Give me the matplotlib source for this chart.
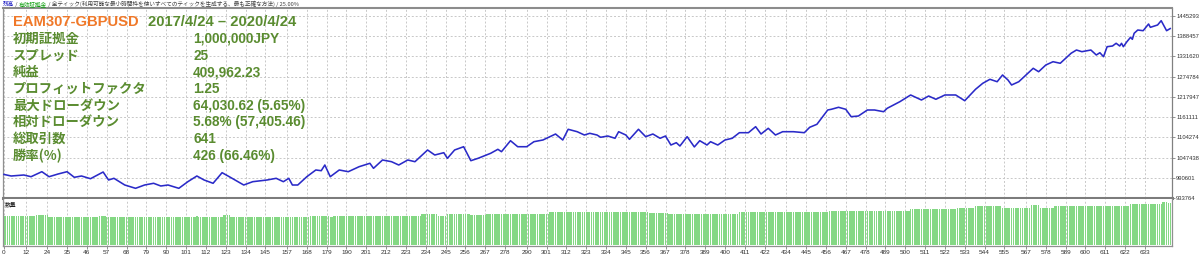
import matplotlib
matplotlib.use('Agg')
import matplotlib.pyplot as plt
import numpy as np

# ---------------- data ----------------
trade_idx = [0, 4, 11, 15, 21, 25, 30, 35, 39, 43, 48, 55, 58, 61, 67, 73, 78, 83, 87, 91,
             97, 102, 107, 111, 116, 121, 125, 133, 138, 146, 151, 155, 158, 160, 163, 168,
             173, 176, 178, 181, 186, 191, 197, 203, 205, 210, 215, 219, 224, 228, 235, 239,
             244, 246, 250, 255, 259, 263, 270, 274, 276, 281, 285, 290, 294, 299, 306, 310,
             313, 318, 322, 325, 329, 331, 335, 339, 341, 345, 347, 352, 356, 360, 364, 367,
             370, 373, 375, 379, 383, 386, 390, 392, 396, 400, 404, 408, 413, 417, 420, 424,
             428, 432, 438, 444, 447, 451, 457, 459, 463, 467, 470, 474, 479, 483, 488, 490,
             497, 503, 509, 513, 517, 522, 528, 533, 539, 543, 547, 551, 554, 557, 559, 563,
             566, 571, 574, 578, 582, 586, 589, 592, 595, 598, 603, 606, 608, 610, 612, 615,
             617, 619, 620, 621, 623, 625, 626, 627, 629, 632, 635, 636, 640, 642, 645, 647]
balance = [1000000, 995600, 998400, 993600, 1007700, 993600, 1001200, 1007700, 991900, 995600,
           988000, 1006800, 984400, 989100, 970300, 961000, 970300, 975100, 967500, 970300,
           961000, 979600, 995600, 984400, 975100, 1004900, 993600, 970300, 979600, 984400,
           989100, 979600, 989100, 970300, 970300, 993600, 1012500, 1010500, 1026500, 993600,
           1012500, 1007700, 1021700, 1031300, 1017200, 1040600, 1035800, 1026500, 1040600, 1035800,
           1068700, 1054600, 1061100, 1045300, 1068700, 1077900, 1038600, 1045300, 1059400, 1070600,
           1063900, 1094800, 1077900, 1077900, 1092000, 1096800, 1113600, 1096800, 1126900, 1120100,
           1110800, 1115600, 1110800, 1104400, 1108000, 1101600, 1120100, 1110800, 1098700, 1126900,
           1106100, 1113600, 1101600, 1108000, 1082700, 1089200, 1079900, 1106100, 1077300, 1094800,
           1082700, 1092000, 1082700, 1096800, 1101600, 1117300, 1117300, 1134200, 1113600, 1129700,
           1110800, 1120100, 1120100, 1117300, 1132500, 1140900, 1181100, 1183100, 1188700, 1183100,
           1162300, 1164200, 1181100, 1181100, 1176300, 1185900, 1204400, 1223300, 1209200, 1220400,
           1211200, 1223300, 1223300, 1207200, 1239300, 1256100, 1267400, 1260600, 1279500, 1265400,
           1251400, 1260600, 1274700, 1298300, 1288700, 1307600, 1316800, 1312400, 1326400, 1340500,
           1349700, 1345000, 1349700, 1335700, 1342100, 1330900, 1359000, 1361000, 1368600, 1361000,
           1368600, 1359000, 1373100, 1385400, 1379800, 1396700, 1405900, 1404000, 1422800, 1413500,
           1420000, 1432100, 1404000, 1409962]

# lot size steps: first trade index of each step and its lot size
lot_start = [0, 18, 25, 53, 57, 107, 108, 122, 126, 170, 181, 183, 232, 241, 246, 259, 268,
             303, 358, 369, 408, 458, 503, 529, 539, 554, 570, 575, 583, 625, 643, 646]
lot_value = [0.29, 0.30, 0.28, 0.29, 0.28, 0.29, 0.28, 0.30, 0.28, 0.29, 0.28, 0.29, 0.31,
             0.29, 0.31, 0.30, 0.31, 0.33, 0.32, 0.31, 0.33, 0.34, 0.36, 0.37, 0.39, 0.37,
             0.40, 0.37, 0.39, 0.41, 0.43, 0.42]
n_bars = 648

x_ticks = [0, 12, 24, 35, 46, 57, 68, 79, 90, 101, 112, 123, 134, 145, 157, 168, 179, 190,
           201, 212, 223, 234, 245, 256, 267, 278, 290, 301, 312, 323, 334, 345, 356, 367,
           378, 389, 400, 411, 422, 434, 445, 456, 467, 478, 489, 500, 511, 522, 533, 544,
           555, 567, 578, 589, 600, 611, 622, 633]
y_ticks = [933764, 990601, 1047438, 1104274, 1161111, 1217947, 1274784, 1331620, 1388457, 1445293]

title_left = "EAM307-GBPUSD"
title_right = "2017/4/24 \u2013 2020/4/24"
stat_labels = ["初期証拠金", "スプレッド", "純益", "プロフィットファクタ", "最大ドローダウン",
               "相対ドローダウン", "総取引数", "勝率(%)"]
stat_values = ["1,000,000JPY", "25", "409,962.23", "1.25", "64,030.62 (5.65%)",
               "5.68% (57,405.46)", "641", "426 (66.46%)"]
header_parts = [("残高", "#1010c0"), (" / ", "#404040"), ("有効証拠金", "#10a010"),
                (" / 全ティック(利用可能な最小時間枠を使いすべてのティックを生成する、最も正確な方法) / 25.00%", "#404040")]

# ---------------- figure ----------------
W, H = 1200, 257
fig = plt.figure(figsize=(W / 100, H / 100), dpi=100)
fig.patch.set_facecolor('white')

def fx(px):
    return px / W

def fy(py):
    return 1 - py / H

L, R = 3, 1172
ax = fig.add_axes([fx(L), fy(198), (R - L) / W, (198 - 8) / H])
axv = fig.add_axes([fx(L), fy(246), (R - L) / W, (246 - 199) / H])

xlim = (-0.55, 648.0)
grid_kw = dict(color='#c8c8c8', linestyle=(0, (2, 2)), linewidth=0.7)

# main balance line
ax.plot(trade_idx, balance, color='#2a2ac8', linewidth=1.15, zorder=3)
ax.set_xlim(*xlim)
ax.set_ylim(933764, 1467778)
ax.set_xticks(x_ticks)
ax.set_yticks(y_ticks)
ax.set_xticklabels([])
ax.tick_params(axis='x', length=0)
ax.yaxis.tick_right()
ax.set_yticklabels([str(v) for v in y_ticks])
ax.tick_params(axis='y', length=2, width=0.6, color='#808080', pad=1.0,
               labelsize=4.2, labelcolor='#303030')
for lab in ax.get_yticklabels():
    lab.set_family('Liberation Sans')
ax.grid(True, **grid_kw)
ax.set_axisbelow(True)
ax.spines['top'].set_color('#8c8c8c')
ax.spines['top'].set_linewidth(1.5)
ax.spines['left'].set_color('#909090')
ax.spines['left'].set_linewidth(0.9)
ax.spines['right'].set_color('#808080')
ax.spines['right'].set_linewidth(0.9)
ax.spines['bottom'].set_color('#7c7c7c')
ax.spines['bottom'].set_linewidth(2.2)

# volume panel
lots = np.empty(n_bars)
for i, s in enumerate(lot_start):
    e = lot_start[i + 1] if i + 1 < len(lot_start) else n_bars
    lots[s:e] = lot_value[i]
axv.bar(np.arange(n_bars), lots, width=0.75, color='#84d884', linewidth=0, zorder=2)
axv.set_xlim(*xlim)
axv.set_ylim(-0.007, 0.463)
axv.set_xticks(x_ticks)
axv.set_xticklabels([str(t) for t in x_ticks])
axv.set_yticks([])
axv.tick_params(axis='x', length=2, width=0.6, color='#808080', pad=1.2,
                labelsize=4.6, labelcolor='#303030')
for lab in axv.get_xticklabels():
    lab.set_family('Liberation Sans')
axv.grid(True, axis='x', **grid_kw)
axv.set_axisbelow(True)
axv.spines['top'].set_visible(False)
for sp in ('left', 'right', 'bottom'):
    axv.spines[sp].set_color('#909090')
    axv.spines[sp].set_linewidth(0.9)
axv.text((5 - L) / (R - L), 0.88, "数量", transform=axv.transAxes,
         fontsize=4.2, color='#202020', family=['Noto Sans CJK JP', 'DejaVu Sans'],
         va='center', ha='left')

# header line
renderer = fig.canvas.get_renderer()
xpos = 3
for txt, col in header_parts:
    t = fig.text(fx(xpos), fy(4.2), txt, fontsize=4.1, color=col,
                 family=['Noto Sans CJK JP', 'DejaVu Sans'], va='center', ha='left')
    bb = t.get_window_extent(renderer=renderer)
    xpos += bb.width

# stats block
fam = ['Liberation Sans', 'Noto Sans CJK JP']
green = '#5a8c30'
fig.text(fx(13), fy(21.5), title_left, fontsize=10.6, fontweight='bold', color='#f07828',
         family=fam, va='center', ha='left')
fig.text(fx(148), fy(21.5), title_right, fontsize=10.6, fontweight='bold', color=green,
         family=fam, va='center', ha='left')
for i, (lab, val) in enumerate(zip(stat_labels, stat_values)):
    yy = 38.8 + 16.7 * i
    fig.text(fx(13), fy(yy), lab, fontsize=9.6, fontweight='bold', color=green,
             family=['Noto Sans CJK JP', 'DejaVu Sans'], va='center', ha='left')
    fig.text(fx(193), fy(yy), val, fontsize=9.8, fontweight='bold', color=green,
             family=fam, va='center', ha='left')

fig.savefig('out.png', dpi=100, facecolor='white')
